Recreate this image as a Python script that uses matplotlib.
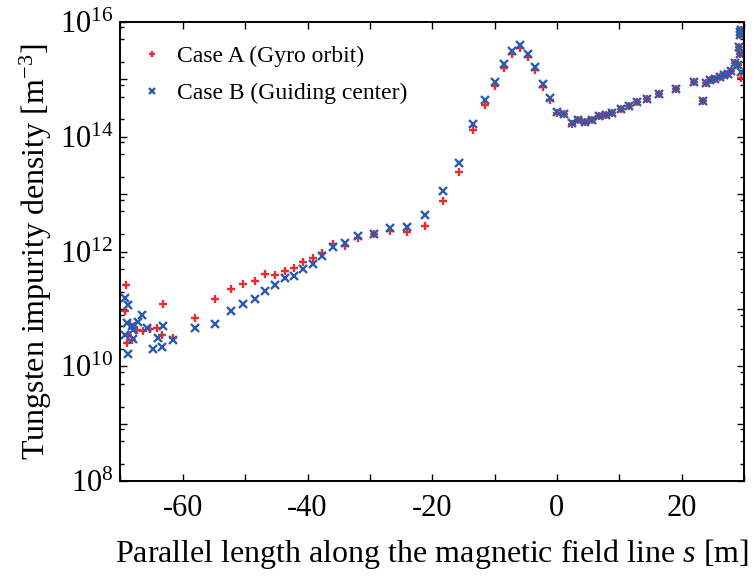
import numpy as np
import matplotlib
matplotlib.use('Agg')
import matplotlib.pyplot as plt
from matplotlib.ticker import LogLocator, FuncFormatter, MultipleLocator, NullFormatter

# Data -------------------------------------------
# Case A: gyro orbit, s [m] and log10 of density [m^-3]
s_a = [-69.15, -69.25, -68.8, -69.0, -68.5, -68.2, -68.0, -67.4, -66.4, -65.3,
       -64.2, -63.4, -63.2, -61.55, -58.1, -54.9, -52.35, -50.3, -48.45, -46.85,
       -45.2, -43.6, -42.1, -40.7, -39.2, -37.6, -35.9, -34.0, -31.9, -29.4,
       -26.7, -24.0, -21.1, -18.2, -15.7, -13.4, -11.55, -9.9, -8.5, -7.2,
       -5.9, -4.7, -3.5, -2.25, -1.1, 0.05, 1.15, 2.35, 3.4, 4.5,
       5.6, 6.7, 7.8, 8.9, 10.2, 11.5, 12.9, 14.4, 16.4, 19.1,
       22.0, 23.5, 23.9, 24.6, 25.35, 26.2, 26.8, 27.4, 28.0, 28.5,
       29.1, 29.3, 29.2, 29.35, 29.3, 29.55, 29.5]
log_n_a = [11.42, 10.97, 10.55, 10.41, 10.73, 10.46, 10.67, 10.64, 10.61, 10.65,
           10.67, 10.55, 11.085, 10.49, 10.84, 11.17, 11.35, 11.44, 11.49, 11.61,
           11.60, 11.67, 11.71, 11.81, 11.89, 11.98, 12.13, 12.10, 12.23, 12.31,
           12.36, 12.34, 12.45, 12.88, 13.38, 14.12, 14.56, 14.89, 15.20, 15.45,
           15.54, 15.39, 15.16, 14.87, 14.64, 14.41, 14.39, 14.23, 14.29, 14.26,
           14.29, 14.37, 14.38, 14.42, 14.48, 14.54, 14.60, 14.66, 14.74, 14.84,
           14.96, 14.63, 14.93, 14.98, 15.01, 15.04, 15.07, 15.10, 15.14, 15.28,
           15.25, 15.45, 15.57, 15.77, 15.83, 15.02, 15.86]

# Case B: guiding center
s_b = [-69.3, -68.8, -69.0, -68.2, -68.0, -69.3, -68.0, -67.2, -66.6, -65.8,
       -64.0, -63.2, -64.8, -63.4, -68.8, -61.55, -58.1, -54.9, -52.35, -50.3,
       -48.45, -46.85, -45.2, -43.6, -42.1, -40.7, -39.2, -37.6, -35.9, -34.0,
       -31.9, -29.4, -26.8, -24.0, -21.1, -18.2, -15.7, -13.4, -11.55, -9.9,
       -8.5, -7.2, -5.9, -4.7, -3.5, -2.25, -1.1, 0.05, 1.15, 2.35,
       3.4, 4.5, 5.6, 6.7, 7.8, 8.9, 10.2, 11.5, 12.9, 14.4,
       16.4, 19.1, 22.0, 23.5, 23.9, 24.6, 25.35, 26.2, 26.8, 27.4,
       28.0, 28.5, 29.1, 29.3, 29.2, 29.35, 29.3, 29.6, 29.5]
log_n_b = [11.19, 11.07, 10.75, 10.70, 10.64, 10.55, 10.48, 10.78, 10.90, 10.67,
           10.49, 10.70, 10.30, 10.33, 10.22, 10.46, 10.67, 10.74, 10.96, 11.09,
           11.18, 11.32, 11.41, 11.54, 11.58, 11.69, 11.79, 11.93, 12.08, 12.15,
           12.27, 12.30, 12.41, 12.43, 12.64, 13.06, 13.54, 14.22, 14.64, 14.95,
           15.26, 15.50, 15.59, 15.44, 15.21, 14.92, 14.67, 14.43, 14.39, 14.24,
           14.29, 14.26, 14.29, 14.37, 14.38, 14.42, 14.48, 14.54, 14.60, 14.66,
           14.74, 14.84, 14.96, 14.63, 14.93, 14.98, 15.01, 15.04, 15.07, 15.10,
           15.14, 15.28, 15.25, 15.45, 15.57, 15.77, 15.83, 15.13, 15.86]

label_a = 'Case A (Gyro orbit)'
label_b = 'Case B (Guiding center)'
red = '#ee2a2e'
blue = '#2a5bb0'
# -----------------------------------------------

plt.rcParams['font.family'] = ['Liberation Serif', 'DejaVu Serif']
plt.rcParams['mathtext.fontset'] = 'custom'
plt.rcParams['mathtext.rm'] = 'Liberation Serif'
plt.rcParams['mathtext.it'] = 'Liberation Serif:italic'
plt.rcParams['axes.unicode_minus'] = False

fig = plt.figure(figsize=(7.53, 5.77), dpi=100)
ax = fig.add_axes([0.160, 0.166, 0.828, 0.796])

ax.plot(s_a, 10**np.array(log_n_a), linestyle='none', marker='+', color=red,
        markersize=6, markeredgewidth=1.7, label=label_a)
ax.plot(s_b, 10**np.array(log_n_b), linestyle='none', marker='x', color=blue,
        markersize=5.5, markeredgewidth=1.7, label=label_b)

ax.set_yscale('log')
ax.set_xlim(-70, 30)
ax.set_ylim(1e8, 1e16)

ax.xaxis.set_major_locator(MultipleLocator(20))
ax.xaxis.set_minor_locator(MultipleLocator(10))
ax.yaxis.set_major_locator(LogLocator(base=10, numticks=20))
ax.yaxis.set_minor_locator(LogLocator(base=10, subs=(2, 5, 8), numticks=20))
ax.yaxis.set_minor_formatter(NullFormatter())

def ylab(v, pos):
    e = int(round(np.log10(v)))
    return r'$10^{%d}$' % e if e % 2 == 0 else ''
ax.yaxis.set_major_formatter(FuncFormatter(ylab))

ax.tick_params(which='both', direction='in', top=True, right=True, width=1.0)
ax.tick_params(which='major', length=5)
ax.tick_params(which='minor', length=3)
ax.tick_params(axis='x', which='minor', length=5)
ax.tick_params(axis='x', labelsize=22, pad=9)
ax.tick_params(axis='y', labelsize=22, pad=5)
for sp in ax.spines.values():
    sp.set_linewidth(1.4)

ax.set_xlabel(r'Parallel length along the magnetic field line $s$ [m]', fontsize=23, labelpad=10)
ax.set_ylabel(r'Tungsten impurity density [m$^{-3}$]', fontsize=23, labelpad=4)

ax.legend(loc='upper left', bbox_to_anchor=(0.0, 0.984), frameon=False, fontsize=17,
          markerscale=0.7, handletextpad=0.4, labelspacing=0.66, handlelength=1.3,
          borderaxespad=0.3)

fig.savefig('out.png', dpi=100)
